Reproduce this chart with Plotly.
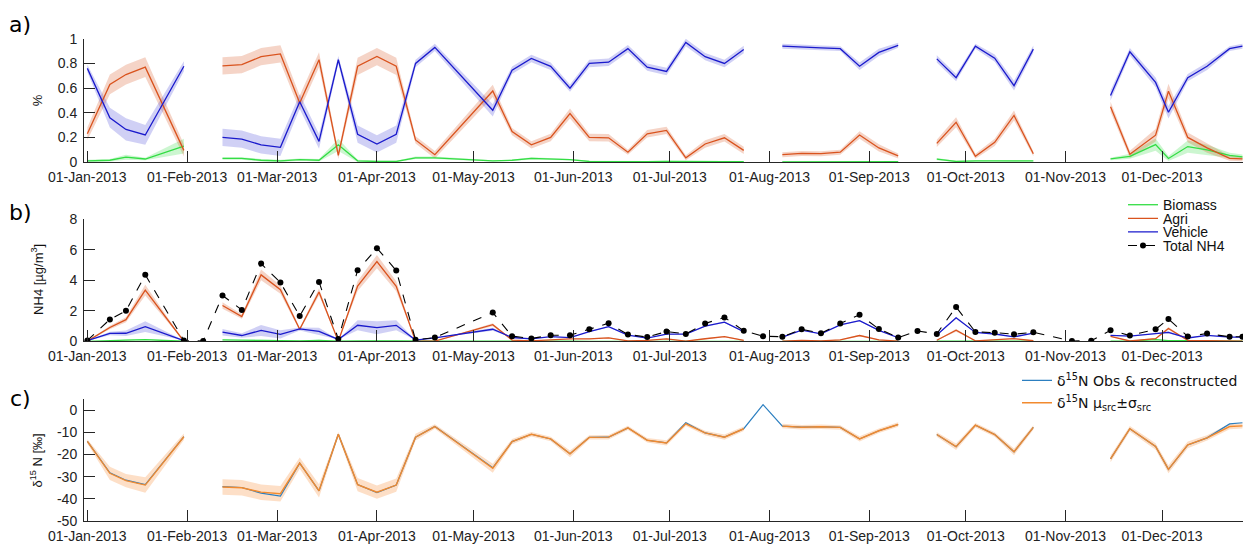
import numpy as np
import plotly.graph_objects as go

nan = np.nan

# sampling dates (sources missing where NaN)
dates = ["2013-01-01", "2013-01-08", "2013-01-13", "2013-01-19", "2013-01-31",
         "2013-02-06", "2013-02-12", "2013-02-18", "2013-02-24",
         "2013-03-02", "2013-03-08", "2013-03-14", "2013-03-20", "2013-03-26",
         "2013-04-01", "2013-04-07", "2013-04-13", "2013-04-19",
         "2013-05-07", "2013-05-13", "2013-05-19", "2013-05-25", "2013-05-31",
         "2013-06-06", "2013-06-12", "2013-06-18", "2013-06-24", "2013-06-30",
         "2013-07-06", "2013-07-12", "2013-07-18", "2013-07-24", "2013-07-30",
         "2013-08-05", "2013-08-11", "2013-08-17", "2013-08-23", "2013-08-29",
         "2013-09-04", "2013-09-10", "2013-09-16", "2013-09-22", "2013-09-28",
         "2013-10-04", "2013-10-10", "2013-10-16", "2013-10-22",
         "2013-11-03", "2013-11-09", "2013-11-15", "2013-11-21", "2013-11-29",
         "2013-12-03", "2013-12-09", "2013-12-15", "2013-12-22", "2013-12-26"]

# total NH4 [ug/m3]
total_nh4 = [0.06, 1.44, 2.0, 4.37, 0.06,
             0.02, 3.01, 2.06, 5.1,
             3.86, 1.66, 3.9, 0.15, 4.67,
             6.11, 4.65, 0.1, 0.25,
             1.89, 0.34, 0.19, 0.4, 0.4,
             0.8, 1.19, 0.45, 0.28, 0.64,
             0.49, 1.17, 1.57, 0.7, 0.34,
             0.3, 0.79, 0.53, 1.17, 1.74,
             0.81, 0.25, 0.68, 0.49, 2.25,
             0.62, 0.57, 0.47, 0.59,
             0.02, 0.04, 0.72, 0.38, 0.79,
             1.47, 0.32, 0.51, 0.3, 0.3]

# source fractions
vehicle = [0.76, 0.36, 0.265, 0.22, 0.777,
           nan, 0.20, 0.186, 0.14,
           0.12, 0.49, 0.168, 0.83, 0.226,
           0.147, 0.226, 0.80, 0.93,
           0.42, 0.745, 0.84, 0.777, 0.6,
           0.80, 0.81, 0.92, 0.77, 0.735,
           0.97, 0.855, 0.80, 0.913, nan,
           0.94, 0.93, 0.926, 0.92, 0.777,
           0.89, 0.947, nan, 0.837, 0.685,
           0.94, 0.843, 0.62, 0.916,
           nan, nan, 0.54, 0.895, 0.646,
           0.404, 0.685, 0.777, 0.92, 0.94]

agri = [0.23, 0.63, 0.71, 0.77, 0.095,
        nan, 0.78, 0.79, 0.855,
        0.877, 0.48, 0.83, 0.055, 0.777,
        0.856, 0.777, 0.18, 0.06,
        0.577, 0.247, 0.14, 0.2, 0.394,
        0.2, 0.197, 0.08, 0.23, 0.257,
        0.035, 0.147, 0.197, 0.095, nan,
        0.06, 0.07, 0.068, 0.08, 0.22,
        0.115, 0.05, nan, 0.152, 0.323,
        0.047, 0.16, 0.378, 0.068,
        nan, nan, 0.449, 0.063, 0.218,
        0.575, 0.2, 0.115, 0.03, 0.026]

biomass = [0.01, 0.015, 0.04, 0.025, 0.13,
           nan, 0.03, 0.03, 0.015,
           0.01, 0.02, 0.015, 0.14, 0.01,
           0.005, 0.005, 0.035, 0.035,
           0.01, 0.015, 0.03, 0.025, 0.02,
           0.005, 0.003, 0.003, 0.003, 0.005,
           0.003, 0.003, 0.003, 0.003, nan,
           0.002, 0.002, 0.002, 0.003, 0.003,
           0.003, 0.003, nan, 0.024, 0.005,
           0.01, 0.01, 0.005, 0.01,
           nan, nan, 0.026, 0.047, 0.142,
           0.029, 0.126, 0.10, 0.055, 0.042]

# source fraction uncertainty (1 sigma)
vehicle_sd = [0.03, 0.08, 0.09, 0.08, 0.04,
              nan, 0.07, 0.07, 0.07,
              0.07, 0.06, 0.06, 0.03, 0.07,
              0.07, 0.07, 0.03, 0.03,
              0.05, 0.03, 0.03, 0.03, 0.03,
              0.03, 0.03, 0.03, 0.03, 0.03,
              0.03, 0.03, 0.03, 0.03, nan,
              0.02, 0.02, 0.02, 0.02, 0.03,
              0.03, 0.02, nan, 0.03, 0.03,
              0.02, 0.03, 0.04, 0.03,
              nan, nan, 0.04, 0.03, 0.04,
              0.05, 0.03, 0.03, 0.02, 0.02]

agri_sd = [0.05, 0.08, 0.08, 0.08, 0.05,
           nan, 0.07, 0.07, 0.07,
           0.07, 0.06, 0.06, 0.03, 0.07,
           0.07, 0.07, 0.03, 0.03,
           0.05, 0.03, 0.03, 0.03, 0.04,
           0.03, 0.03, 0.02, 0.03, 0.03,
           0.02, 0.03, 0.03, 0.03, nan,
           0.02, 0.02, 0.02, 0.02, 0.03,
           0.03, 0.02, nan, 0.03, 0.04,
           0.02, 0.03, 0.04, 0.02,
           nan, nan, 0.04, 0.03, 0.05,
           0.06, 0.04, 0.04, 0.02, 0.02]

biomass_sd = [0.01, 0.01, 0.02, 0.01, 0.06,
              nan, 0.01, 0.01, 0.01,
              0.01, 0.01, 0.01, 0.05, 0.01,
              0.005, 0.005, 0.01, 0.01,
              0.005, 0.005, 0.01, 0.01, 0.005,
              0.005, 0.005, 0.005, 0.005, 0.005,
              0.005, 0.005, 0.005, 0.005, nan,
              0.005, 0.005, 0.005, 0.005, 0.005,
              0.005, 0.005, nan, 0.01, 0.005,
              0.005, 0.005, 0.005, 0.005,
              nan, nan, 0.01, 0.02, 0.05,
              0.02, 0.05, 0.04, 0.02, 0.02]

# d15N [permil]
d15n_obs = [-14.1, -28.3, -31.6, -33.6, -12.0,
            nan, -34.5, -34.9, -37.4,
            -38.8, -23.9, -36.4, -10.9, -33.6,
            -37.2, -33.8, -12.2, -7.4,
            -26.0, -14.2, -10.9, -13.0, -19.7,
            -12.3, -12.2, -8.0, -13.6, -14.8,
            -5.7, -10.3, -12.2, -8.4, 2.5,
            -7.2, -7.7, -7.5, -7.8, -13.0,
            -9.3, -6.5, nan, -11.0, -16.5,
            -6.8, -11.0, -18.8, -7.8,
            nan, nan, -22.0, -8.4, -16.4,
            -26.7, -15.7, -12.5, -6.2, -5.7]

d15n_src = [-14.1, -28.5, -31.8, -33.8, -12.0,
            nan, -34.7, -35.0, -37.0,
            -37.7, -23.9, -36.4, -10.9, -33.6,
            -37.0, -33.8, -12.2, -7.4,
            -26.2, -14.2, -10.9, -13.0, -19.7,
            -12.3, -12.2, -8.0, -13.6, -14.8,
            -6.2, -10.3, -12.2, -8.4, nan,
            -7.2, -7.7, -7.5, -7.8, -13.0,
            -9.3, -6.5, nan, -11.0, -16.5,
            -6.8, -11.0, -18.8, -7.8,
            nan, nan, -22.0, -8.4, -16.4,
            -26.7, -15.7, -12.5, -7.4, -7.1]

d15n_src_sd = [1.0, 3.0, 3.0, 3.5, 1.5,
               nan, 3.5, 3.5, 3.5,
               3.5, 2.5, 3.0, 1.0, 3.0,
               3.0, 3.0, 1.5, 1.0,
               2.0, 1.2, 1.0, 1.0, 1.5,
               1.0, 1.0, 1.0, 1.0, 1.2,
               1.0, 1.0, 1.2, 1.0, nan,
               1.0, 1.0, 1.0, 1.0, 1.2,
               1.0, 1.0, nan, 1.0, 1.5,
               1.0, 1.0, 1.5, 1.0,
               nan, nan, 1.5, 1.2, 1.5,
               1.8, 1.5, 1.2, 1.2, 1.2]

# colours
c_bio, c_agri, c_veh = '#33dd44', '#d9531e', '#1a1acc'
f_bio, f_agri, f_veh = 'rgba(51,221,68,0.25)', 'rgba(217,83,30,0.25)', 'rgba(40,40,210,0.22)'
c_obs, c_src, f_src = '#2c7fc0', '#f28a2e', 'rgba(250,150,70,0.3)'

x = np.array(dates, dtype='datetime64[D]')


def band(xa, lo, hi, color, xaxis, yaxis):
    # one filled polygon per run of valid values
    traces = []
    ok = ~np.isnan(lo)
    i = 0
    n = len(xa)
    while i < n:
        if not ok[i]:
            i += 1
            continue
        j = i
        while j < n and ok[j]:
            j += 1
        xs = list(xa[i:j].astype(str)) + list(xa[i:j][::-1].astype(str))
        ys = list(hi[i:j]) + list(lo[i:j][::-1])
        traces.append(go.Scatter(x=xs, y=ys, fill='toself', fillcolor=color,
                                 line=dict(width=0), mode='lines', hoverinfo='skip',
                                 showlegend=False, xaxis=xaxis, yaxis=yaxis))
        i = j
    return traces


fig = go.Figure()
tot = np.array(total_nh4)
srcs = [('Biomass', np.array(biomass), np.array(biomass_sd), c_bio, f_bio, 'legend'),
        ('Agri', np.array(agri), np.array(agri_sd), c_agri, f_agri, 'legend3'),
        ('Vehicle', np.array(vehicle), np.array(vehicle_sd), c_veh, f_veh, 'legend4')]

# a) fractions
for name, v, sd, c, f, lg in srcs:
    for t in band(x, np.clip(v - sd, 0, None), v + sd, f, 'x', 'y'):
        fig.add_trace(t)
for name, v, sd, c, f, lg in srcs:
    fig.add_trace(go.Scatter(x=dates, y=v, mode='lines', line=dict(color=c, width=1.3),
                             showlegend=False, xaxis='x', yaxis='y'))

# b) concentrations
for name, v, sd, c, f, lg in srcs:
    for t in band(x, np.clip(v - sd, 0, None) * tot, (v + sd) * tot, f, 'x2', 'y2'):
        fig.add_trace(t)
for name, v, sd, c, f, lg in srcs:
    fig.add_trace(go.Scatter(x=dates, y=v * tot, mode='lines', name=name,
                             line=dict(color=c, width=1.3), legend=lg,
                             xaxis='x2', yaxis='y2'))
fig.add_trace(go.Scatter(x=dates, y=total_nh4, mode='lines+markers', name='Total NH4',
                         line=dict(color='black', width=1.1, dash='dash'),
                         marker=dict(color='black', size=6), legend='legend5',
                         xaxis='x2', yaxis='y2'))

# c) d15N
src = np.array(d15n_src)
src_sd = np.array(d15n_src_sd)
for t in band(x, src - src_sd, src + src_sd, f_src, 'x3', 'y3'):
    fig.add_trace(t)
fig.add_trace(go.Scatter(x=dates, y=d15n_obs, mode='lines', name='δ<sup>15</sup>N Obs & reconstructed',
                         line=dict(color=c_obs, width=1.2), legend='legend2', xaxis='x3', yaxis='y3'))
fig.add_trace(go.Scatter(x=dates, y=d15n_src, mode='lines',
                         name='δ<sup>15</sup>N μ<sub>src</sub>±σ<sub>src</sub>',
                         line=dict(color=c_src, width=1.4), legend='legend6', xaxis='x3', yaxis='y3'))

H = 552.0
W = 1159.0
tickfont = dict(family='Liberation Sans, Arial, sans-serif', size=14, color='#222222')
xax = dict(type='date', range=['2012-12-30 23:00', '2013-12-26 04:00'],
           tick0='2013-01-01', dtick='M1', tickformat='%d-%b-%Y',
           ticks='inside', ticklen=11, tickcolor='#262626', showline=True,
           linecolor='#262626', linewidth=1, showgrid=False, zeroline=False,
           tickfont=tickfont, ticklabelstandoff=2)
yax = dict(ticks='inside', ticklen=11, tickcolor='#262626', showline=True,
           linecolor='#262626', linewidth=1, showgrid=False, zeroline=False,
           tickfont=tickfont, ticklabelstandoff=3)

lfont_b = dict(family='Liberation Sans, Arial', size=14, color='#111111')
lfont_c = dict(family='DejaVu Sans', size=14, color='#111111')


def leg(px, py, font):
    return dict(x=(px - 40 - 84) / W, y=1 - py / H, xanchor='left', yanchor='middle',
                bgcolor='rgba(0,0,0,0)', font=font, itemwidth=30)


fig.update_layout(
    width=1243, height=552,
    margin=dict(l=84, r=0, t=0, b=0),
    plot_bgcolor='white', paper_bgcolor='white',
    xaxis=dict(xax, domain=[0, 1], anchor='y'),
    xaxis2=dict(xax, domain=[0, 1], anchor='y2'),
    xaxis3=dict(xax, domain=[0, 1], anchor='y3'),
    yaxis=dict(yax, domain=[1 - 158.7 / H, 1 - 31.7 / H], range=[0, 1],
               tickvals=[0, 0.2, 0.4, 0.6, 0.8, 1], anchor='x'),
    yaxis2=dict(yax, domain=[1 - 343.3 / H, 1 - 217.7 / H], range=[0, 8],
                tickvals=[0, 2, 4, 6, 8], anchor='x2'),
    yaxis3=dict(yax, domain=[1 - 528.3 / H, 1 - 402.7 / H], range=[-50, 5],
                tickvals=[0, -10, -20, -30, -40, -50],
                ticktext=['0', '-10', '-20', '-30', '-40', '-50'], anchor='x3'),
    legend=leg(1163, 203, lfont_b),
    legend3=leg(1163, 217, lfont_b),
    legend4=leg(1163, 231, lfont_b),
    legend5=leg(1163, 245, lfont_b),
    legend2=leg(1057, 384, lfont_c),
    legend6=leg(1057, 407, lfont_c),
)

lab = dict(family='DejaVu Sans', size=22, color='black')
ttl = dict(family='Liberation Sans, Arial', size=13, color='#111111')
for txt, yy in [('a)', 17), ('b)', 211), ('c)', 402)]:
    fig.add_annotation(text=txt, x=(20 - 84) / W, y=1 - yy / H, xref='paper', yref='paper',
                       showarrow=False, font=lab, xanchor='center', yanchor='middle')
for txt, yy in [('%', 95), ('NH4 [µg/m<sup>3</sup>]', 280), ('δ<sup>15</sup> N [‰]', 466)]:
    fig.add_annotation(text=txt, x=(37 - 84) / W, y=1 - yy / H, xref='paper', yref='paper',
                       showarrow=False, font=ttl, textangle=-90, xanchor='center', yanchor='middle')

fig.write_html("out.html", config={'displayModeBar': False},
               post_script="document.body.style.margin='0';")
